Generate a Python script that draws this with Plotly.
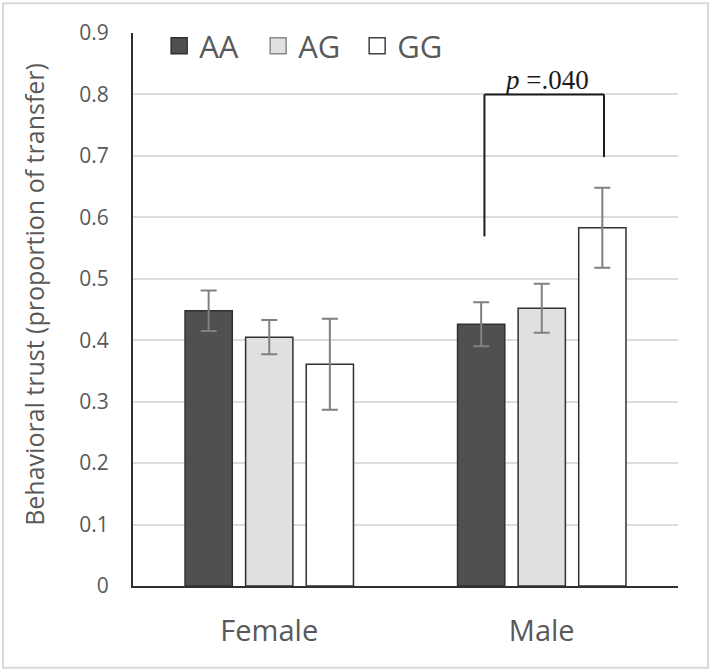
import plotly.graph_objects as go

categories = ["Female", "Male"]
genotypes = ["AA", "AG", "GG"]
means = {
    "AA": [0.448, 0.426],
    "AG": [0.405, 0.452],
    "GG": [0.361, 0.583],
}
errors = {
    "AA": [0.033, 0.036],
    "AG": [0.028, 0.040],
    "GG": [0.074, 0.065],
}
fills = {"AA": "#505050", "AG": "#e0e0e0", "GG": "#ffffff"}
legend_edges = {"AA": "#303030", "AG": "#8a8a8a", "GG": "#404040"}
y_ticks = [0, 0.1, 0.2, 0.3, 0.4, 0.5, 0.6, 0.7, 0.8, 0.9]
y_ticklabels = ["0", "0.1", "0.2", "0.3", "0.4", "0.5", "0.6", "0.7", "0.8", "0.9"]
y_title = "Behavioral trust (proportion of transfer)"

# significance bracket (Male AA vs Male GG)
bracket_top = 0.80
bracket_left_bottom = 0.569
bracket_right_bottom = 0.698
p_text = "<i>p</i> =.040"

bargap = 0.333
slot = (1 - bargap) / 3

fig = go.Figure()
for g in genotypes:
    fig.add_trace(go.Bar(
        name=g, x=categories, y=means[g], showlegend=False,
        marker=dict(color=fills[g], line=dict(color="#303030", width=1.5)),
        error_y=dict(type="data", array=errors[g], color="#808080", thickness=2, width=8),
    ))
# legend entries (square swatches)
for g in genotypes:
    fig.add_trace(go.Scatter(
        name=g, x=[None], y=[None], mode="markers", showlegend=True,
        marker=dict(symbol="square", size=16, color=fills[g],
                    line=dict(color=legend_edges[g], width=1.5)),
    ))

xl = 1 - slot + 0.012
xr = 1 + slot + 0.006
fig.add_shape(type="line", xref="x", yref="y", x0=xl, x1=xl, y0=bracket_left_bottom, y1=bracket_top,
              line=dict(color="#1a1a1a", width=2))
fig.add_shape(type="line", xref="x", yref="y", x0=xr, x1=xr, y0=bracket_right_bottom, y1=bracket_top,
              line=dict(color="#1a1a1a", width=2))
fig.add_shape(type="line", xref="x", yref="y", x0=xl, x1=xr, y0=bracket_top, y1=bracket_top,
              line=dict(color="#1a1a1a", width=2))
fig.add_annotation(x=1.018, y=bracket_top, xref="x", yref="y", text=p_text,
                   showarrow=False, yanchor="bottom", yshift=-3,
                   font=dict(family="Liberation Serif", size=27, color="#1a1a1a"))

# y-axis title
fig.add_annotation(x=-0.183, y=0.527, xref="paper", yref="paper", text=y_title,
                   textangle=-90, showarrow=False, xanchor="center", yanchor="middle",
                   font=dict(size=25, color="#595959"))

# outer light frame
fig.add_shape(type="rect", xref="paper", yref="paper", x0=-0.2385, x1=1.055, y0=-0.148, y1=1.054,
              line=dict(color="#d9d9d9", width=2))

fig.update_layout(
    width=712, height=672,
    margin=dict(l=133, r=34, t=33, b=86),
    paper_bgcolor="white", plot_bgcolor="white",
    barmode="group", bargap=bargap, bargroupgap=0.22,
    font=dict(family="Open Sans", color="#595959"),
    showlegend=True,
    legend=dict(orientation="h", x=0.048, y=1.025, xanchor="left", yanchor="top",
                font=dict(size=31, color="#595959"), bgcolor="rgba(0,0,0,0)",
                entrywidth=54, entrywidthmode="pixels", itemsizing="trace",
                traceorder="normal"),
    xaxis=dict(showline=True, linecolor="#303030", linewidth=2, showgrid=False,
               tickfont=dict(size=29, color="#595959"), ticks="", ticklabelstandoff=18),
    yaxis=dict(range=[0, 0.9], tickvals=y_ticks, ticktext=y_ticklabels,
               showline=True, linecolor="#303030", linewidth=2,
               showgrid=True, gridcolor="#dcdcdc", gridwidth=2,
               tickfont=dict(size=21, color="#595959"), ticks="",
               ticklabelstandoff=18),
)
fig.write_html("out.html", config={"displayModeBar": False},
               post_script="document.body.style.margin='0px';")
